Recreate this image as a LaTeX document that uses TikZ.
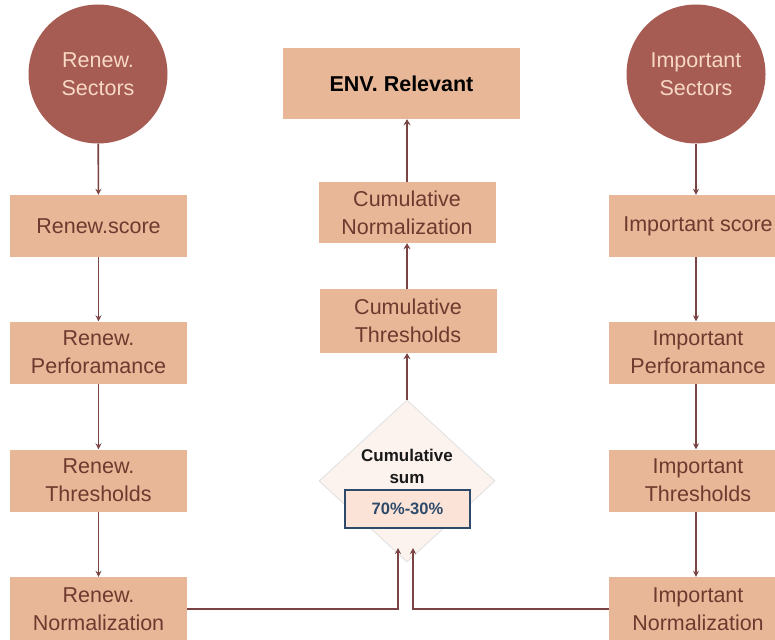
\documentclass[tikz,border=0pt]{standalone}
\usepackage{fontspec}
\setmainfont{Liberation Sans}
\usetikzlibrary{arrows.meta,shapes.geometric}
\definecolor{sectorfill}{HTML}{A65B53}
\definecolor{sectortext}{HTML}{F7D8C4}
\definecolor{boxfill}{HTML}{E7B797}
\definecolor{boxtext}{HTML}{6E3A2F}
\definecolor{linkcol}{HTML}{7A4444}
\definecolor{sumfill}{HTML}{FCF3EE}
\definecolor{pctfill}{HTML}{FBE4D7}
\definecolor{pctline}{HTML}{2E4A6A}
\tikzset{
  sector/.style={circle, fill=sectorfill, minimum size=139pt, inner sep=0pt,
    text=sectortext, align=center, font=\fontsize{21.5}{28}\selectfont},
  stagebox/.style={rectangle, fill=boxfill, minimum width=177pt, minimum height=62pt,
    inner sep=0pt, text=boxtext, align=center, font=\fontsize{21.5}{28}\selectfont},
  link/.style={draw=linkcol, line width=1.6pt, -{Stealth[length=6pt,width=6pt]}},
  uplink/.style={draw=linkcol, line width=2.4pt, -{Stealth[length=6pt,width=7pt]}},
  feed/.style={draw=linkcol, line width=1.6pt, -{Stealth[length=6pt,width=6pt]}},
}
\begin{document}
\begin{tikzpicture}[x=1pt,y=-1pt]
\clip (0,0) rectangle (775,639);
\fill[white] (0,0) rectangle (775,639);

% left chain
\node[sector] (rs) at (98,74) {Renew.\\Sectors};
\node[stagebox] (rsc) at (98.5,226) {Renew.score};
\node[stagebox] (rp) at (98.5,352.5) {Renew.\\Perforamance};
\node[stagebox] (rt) at (98.5,480.5) {Renew.\\Thresholds};
\node[stagebox, minimum height=64pt] (rn) at (98.5,609) {Renew.\\Normalization};

% right chain
\node[sector] (is) at (696,74) {Important\\Sectors};
\node[stagebox, minimum width=178pt] (isc) at (698,226) {Important score};
\node[stagebox, minimum width=178pt] (ip) at (698,352.5) {Important\\Perforamance};
\node[stagebox, minimum width=178pt] (it) at (698,480.5) {Important\\Thresholds};
\node[stagebox, minimum width=178pt, minimum height=64pt] (in) at (698,609) {Important\\Normalization};

% centre chain
\node[stagebox, minimum width=237pt, minimum height=71pt, text=black,
      font=\fontsize{21.5}{28}\selectfont\bfseries] (env) at (401.5,83.5) {ENV. Relevant};
\node[stagebox, minimum height=61pt] (cn) at (407,212.5) {Cumulative\\Normalization};
\node[stagebox, minimum height=64pt] (ct) at (408,321) {Cumulative\\Thresholds};

% cumulative sum decision
\node[diamond, fill=sumfill, draw=black!12, line width=0.8pt, minimum width=176pt,
      minimum height=162pt, inner sep=0pt] (dm) at (407,481) {};
\node[align=center, font=\fontsize{17}{22}\selectfont\bfseries, text=black!90]
      (sumlbl) at (407,466) {Cumulative\\sum};
\node[rectangle, fill=pctfill, draw=pctline, line width=1.8pt, minimum width=125pt,
      minimum height=38pt, inner sep=0pt, text=pctline,
      font=\fontsize{16.5}{20}\selectfont\bfseries] (pct) at (407.5,509) {70\%-30\%};

% joins below the decision
\coordinate (jl) at (398,548);
\coordinate (jr) at (413,548);

% connectors
\draw[link] (rs) -- (rsc);
\draw[link] (rsc) -- (rp);
\draw[link] (rp) -- (rt);
\draw[link] (rt) -- (rn);
\draw[link] (is.south) -- (is.south |- isc.north);
\draw[link] (is.south |- isc.south) -- (is.south |- ip.north);
\draw[link] (is.south |- ip.south) -- (is.south |- it.north);
\draw[link] (is.south |- it.south) -- (is.south |- in.north);
\draw[uplink] (dm.north) -- (dm.north |- ct.south);
\draw[uplink] (dm.north |- ct.north) -- (dm.north |- cn.south);
\draw[uplink] (dm.north |- cn.north) -- (dm.north |- env.south);
\draw[feed] (rn.east) -| (jl);
\draw[feed] (in.west) -| (jr);
\end{tikzpicture}
\end{document}
